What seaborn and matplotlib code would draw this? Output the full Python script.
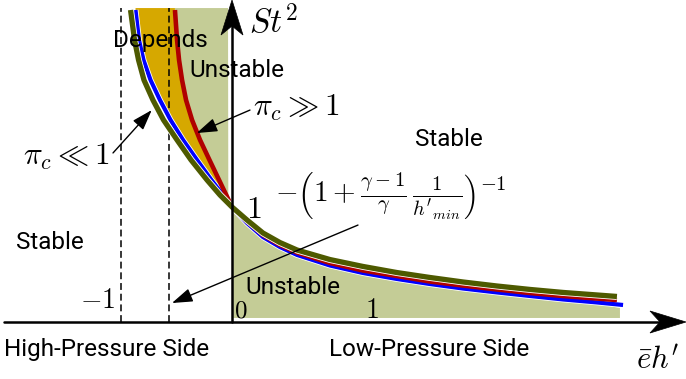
import numpy as np
import pandas as pd
import matplotlib
matplotlib.use("Agg")
import matplotlib.pyplot as plt
import matplotlib.patheffects as pe
from matplotlib.patches import Polygon
import seaborn as sns

# Stability curves St^2 versus e*h'
green_x = [-0.914, -0.878, -0.842, -0.793, -0.712, -0.617, -0.495, -0.369, -0.225,
           -0.108, 0.0, 0.135, 0.279, 0.432, 0.586, 0.883, 1.180, 1.486, 1.784,
           2.081, 2.387, 2.685, 2.982, 3.288, 3.468]
green_y = [2.713, 2.452, 2.278, 2.104, 1.930, 1.757, 1.583, 1.409, 1.235,
           1.104, 1.000, 0.887, 0.774, 0.691, 0.626, 0.543, 0.483, 0.430, 0.387,
           0.348, 0.313, 0.283, 0.257, 0.235, 0.222]

blue_x = [-0.869, -0.838, -0.797, -0.734, -0.649, -0.554, -0.441, -0.315, -0.185,
          -0.081, 0.0, 0.135, 0.279, 0.432, 0.586, 0.883, 1.180, 1.486, 1.784,
          2.081, 2.387, 2.685, 2.982, 3.288, 3.523]
blue_y = [2.713, 2.452, 2.278, 2.104, 1.930, 1.757, 1.583, 1.409, 1.235,
          1.104, 1.000, 0.861, 0.739, 0.652, 0.583, 0.491, 0.426, 0.374, 0.330,
          0.291, 0.257, 0.226, 0.196, 0.170, 0.148]

red_x = [-0.514, -0.495, -0.477, -0.450, -0.414, -0.360, -0.288, -0.203, -0.095,
         0.0, 0.135, 0.279, 0.432, 0.586, 0.883, 1.180, 1.486, 1.784,
         2.081, 2.387, 2.685, 2.982, 3.288, 3.468]
red_y = [2.713, 2.452, 2.278, 2.104, 1.930, 1.757, 1.583, 1.409, 1.191,
         1.000, 0.874, 0.757, 0.670, 0.604, 0.513, 0.448, 0.400, 0.352,
         0.317, 0.283, 0.252, 0.226, 0.204, 0.191]

# Asymptotes: e*h' = -1 and e*h' = -(1 + (gamma-1)/gamma / h'_min)^-1
asym_left = -1.0
asym_right = -0.568

TOP = 2.73
FILL_BOTTOM = 0.035

C_GREEN = "#4e5a00"
C_BLUE = "#0000ff"
C_RED = "#b00000"
C_FILL = "#c4cc96"
C_ORANGE = "#d6a800"

sns.set_theme(style="white")
plt.rcParams["font.family"] = ["Roboto", "DejaVu Sans"]
plt.rcParams["mathtext.fontset"] = "cm"

fig = plt.figure(figsize=(6.86, 3.79), dpi=100)
ax = fig.add_axes([0, 0, 1, 1])
ax.set_xlim(-232 / 111, (686 - 232) / 111)
ax.set_ylim((322 - 379) / 115, 322 / 115)
ax.axis("off")

# --- shaded regions ---
k_blue = blue_y.index(1.104) + 1
k_red = red_y.index(1.191) + 1
orange = [(blue_x[0], TOP)] + list(zip(blue_x[:k_blue], blue_y[:k_blue])) \
    + list(zip(red_x[:k_red], red_y[:k_red]))[::-1] + [(red_x[0], TOP)]
ax.add_patch(Polygon(orange, closed=True, fc=C_ORANGE, ec="none", zorder=1))

upper = [(red_x[0], TOP)] + list(zip(red_x[:k_red], red_y[:k_red])) \
    + [(-0.033, 1.06), (-0.036, TOP)]
ax.add_patch(Polygon(upper, closed=True, fc=C_FILL, ec="none", zorder=1))

i0 = blue_x.index(0.0)
lower = [(0.01, 1.0)] + [(x + 0.01, y - 0.012) for x, y in zip(blue_x[i0 + 1:], blue_y[i0 + 1:])]
lower[-1] = (3.495, 0.122)
lower += [(3.495, FILL_BOTTOM), (0.01, FILL_BOTTOM)]
ax.add_patch(Polygon(lower, closed=True, fc=C_FILL, ec="none", zorder=1))

# --- dashed asymptotes ---
for xa in (asym_left, asym_right):
    ax.plot([xa, xa], [0, TOP], color="black", linewidth=1.1, dashes=(4.5, 2.5), zorder=2)

# --- curves ---
curves = pd.concat([
    pd.DataFrame({"eh": blue_x, "St2": blue_y, "case": "blue"}),
    pd.DataFrame({"eh": red_x, "St2": red_y, "case": "red"}),
    pd.DataFrame({"eh": green_x, "St2": green_y, "case": "green"}),
])
widths = {"blue": 3.0, "red": 3.3, "green": 3.8}
colors = {"blue": C_BLUE, "red": C_RED, "green": C_GREEN}
for case in ["blue", "red", "green"]:
    sub = curves[curves["case"] == case]
    sns.lineplot(data=sub, x="eh", y="St2", color=colors[case], linewidth=widths[case],
                 ax=ax, sort=False, estimator=None, zorder=4)
    ln = ax.lines[-1]
    ln.set_solid_capstyle("butt")
    ln.set_solid_joinstyle("round")
    if case != "red":
        ln.set_path_effects([pe.Stroke(linewidth=widths[case] + 1.2, foreground="white"),
                             pe.Normal()])

# --- coordinate axes with stealth arrowheads ---
ax.plot([-2.054, 3.92], [0, 0], color="black", linewidth=1.8, zorder=5)
ax.plot([0, 0], [0, 2.75], color="black", linewidth=1.8, zorder=5)


def stealth(tip, direction, length, half_width, notch):
    tx, ty = tip
    if direction == "up":
        pts = [(tx, ty), (tx - half_width, ty - length), (tx, ty - notch),
               (tx + half_width, ty - length)]
    else:
        pts = [(tx, ty), (tx - length, ty + half_width), (tx - notch, ty),
               (tx - length, ty - half_width)]
    ax.add_patch(Polygon(pts, closed=True, fc="black", ec="black", linewidth=0.5, zorder=6))


stealth((0.0, 322 / 115), "up", 35 / 115, 11 / 111, 26 / 115)
stealth(((686 - 232) / 111, 0.0), "right", 36 / 111, 11 / 115, 26 / 111)

# --- labels ---
txt = dict(fontsize=17.5, color="black", zorder=7)
ax.text(-0.649, 2.452, "Depends", ha="center", va="center", **txt)
ax.text(0.045, 2.191, "Unstable", ha="center", va="center", **txt)
ax.text(1.955, 1.583, "Stable", ha="center", va="center", **txt)
ax.text(-1.640, 0.687, "Stable", ha="center", va="center", **txt)
ax.text(0.550, 0.304, "Unstable", ha="center", va="center", **txt)
ax.text(-1.126, -0.243, "High-Pressure Side", ha="center", va="center", **txt)
ax.text(1.775, -0.243, "Low-Pressure Side", ha="center", va="center", **txt)

mt = dict(color="black", zorder=7)
ax.text(0.15, 2.609, r"$St^2$", fontsize=24, ha="left", va="center", **mt)
ax.text(-1.495, 1.435, r"$\pi_c \ll 1$", fontsize=22.5, ha="center", va="center", **mt)
ax.text(0.577, 1.861, r"$\pi_c \gg 1$", fontsize=22.5, ha="center", va="center", **mt)
ax.text(0.198, 0.974, r"$1$", fontsize=23, ha="center", va="center", **mt)
ax.text(0.387, 1.104,
        r"$-\left(1+\frac{\gamma-1}{\gamma}\,\frac{1}{h'_{min}}\right)^{-1}$",
        fontsize=21, ha="left", va="center", **mt)
ax.text(-1.207, 0.191, r"$-1$", fontsize=20, ha="center", va="center", **mt)
ax.text(0.081, 0.104, r"$0$", fontsize=18, ha="center", va="center", **mt)
ax.text(1.261, 0.104, r"$1$", fontsize=20, ha="center", va="center", **mt)
ax.text(3.838, -0.330, r"$\bar{e}h'$", fontsize=22, ha="center", va="center", **mt)

# --- pointer arrows ---
arrow = dict(arrowstyle="-|>,head_length=0.9,head_width=0.3", color="black",
             linewidth=1.0, shrinkA=0, shrinkB=0, mutation_scale=14)
ax.annotate("", xy=(-0.723, 1.843), xytext=(-1.072, 1.470), arrowprops=arrow, zorder=8)
ax.annotate("", xy=(-0.318, 1.643), xytext=(0.162, 1.843), arrowprops=arrow, zorder=8)
ax.annotate("", xy=(-0.541, 0.165), xytext=(1.135, 0.843), arrowprops=arrow, zorder=8)

fig.savefig("out.png", dpi=100)
